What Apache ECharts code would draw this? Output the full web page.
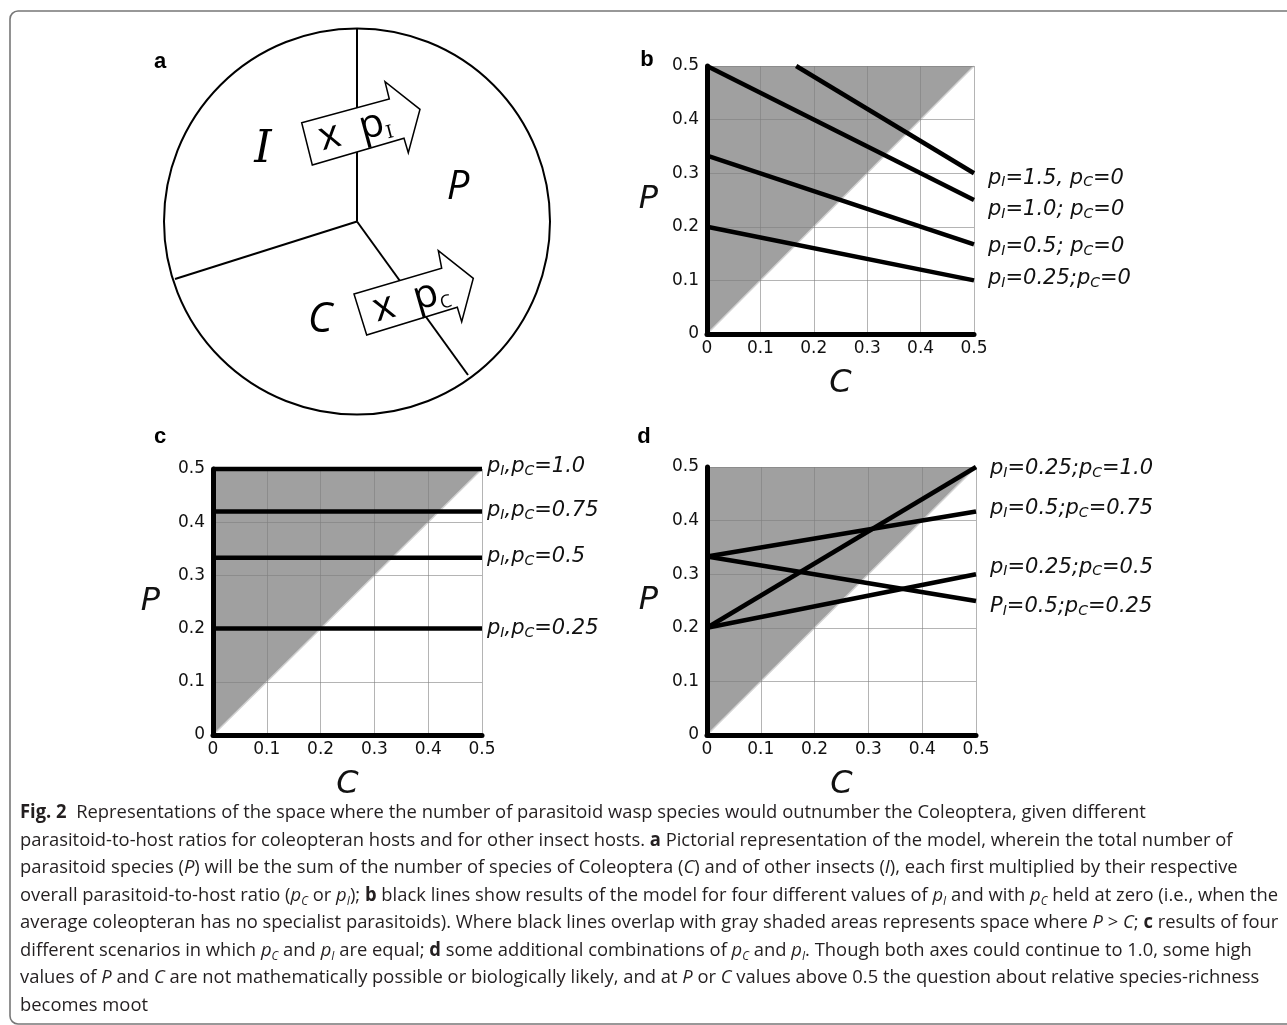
<!DOCTYPE html>
<html>
<head>
<meta charset="utf-8">
<script src="https://cdn.jsdelivr.net/npm/echarts@6/dist/echarts.min.js"></script>
<style>
  html, body { margin: 0; background: #fff; }
  #fig { width: 1287px; height: 1025px; }
</style>
</head>
<body>
<div id="fig"></div>
<script>
// values (C on x, P on y)
const tickLabels = ['0', '0.1', '0.2', '0.3', '0.4', '0.5'];
const shadeEdge = [[0, 0], [0.5, 0.5]];   // P = C, grey area is P > C

const linesB = [
  [[0.167, 0.5], [0.5, 0.3]],
  [[0, 0.5], [0.5, 0.25]],
  [[0, 0.333], [0.5, 0.167]],
  [[0, 0.2], [0.5, 0.1]]
];
const labelsB = ['p_I=1.5, p_C=0', 'p_I=1.0; p_C=0', 'p_I=0.5; p_C=0', 'p_I=0.25;p_C=0'];

const linesC = [
  [[0, 0.5], [0.5, 0.5]],
  [[0, 0.42], [0.5, 0.42]],
  [[0, 0.333], [0.5, 0.333]],
  [[0, 0.2], [0.5, 0.2]]
];
const labelsC = ['p_I,p_C=1.0', 'p_I,p_C=0.75', 'p_I,p_C=0.5', 'p_I,p_C=0.25'];

const linesD = [
  [[0, 0.2], [0.5, 0.5]],
  [[0, 0.333], [0.5, 0.417]],
  [[0, 0.2], [0.5, 0.3]],
  [[0, 0.333], [0.5, 0.25]]
];
const labelsD = ['p_I=0.25;p_C=1.0', 'p_I=0.5;p_C=0.75', 'p_I=0.25;p_C=0.5', 'P_I=0.5;p_C=0.25'];

const caption = [
  '{b|Fig. 2}  Representations of the space where the number of parasitoid wasp species would outnumber the Coleoptera, given different',
  'parasitoid-to-host ratios for coleopteran hosts and for other insect hosts. {b|a} Pictorial representation of the model, wherein the total number of',
  'parasitoid species ({i|P}) will be the sum of the number of species of Coleoptera ({i|C}) and of other insects ({i|I}), each first multiplied by their respective',
  'overall parasitoid-to-host ratio ({i|p}{s|C} or {i|p}{s|I}); {b|b} black lines show results of the model for four different values of {i|p}{s|I} and with {i|p}{s|C} held at zero (i.e., when the',
  'average coleopteran has no specialist parasitoids). Where black lines overlap with gray shaded areas represents space where {i|P} > {i|C}; {b|c} results of four',
  'different scenarios in which {i|p}{s|C} and {i|p}{s|I} are equal; {b|d} some additional combinations of {i|p}{s|C} and {i|p}{s|I}. Though both axes could continue to 1.0, some high',
  'values of {i|P} and {i|C} are not mathematically possible or biologically likely, and at {i|P} or {i|C} values above 0.5 the question about relative species-richness',
  'becomes moot'
];

const panels = [
  { box: { left: 707, top: 66, width: 267, height: 268 }, lines: linesB, labels: labelsB,
    nudge: [[14, 5], [14, 10], [14, 2], [14, -2]], pGap: 49 },
  { box: { left: 213, top: 469, width: 269, height: 266 }, lines: linesC, labels: labelsC,
    nudge: [[5, -2], [5, -1], [5, -1], [5, 0]], pGap: 53 },
  { box: { left: 707, top: 467, width: 269, height: 268 }, lines: linesD, labels: labelsD,
    nudge: [[14, 2], [14, -3], [14, -7], [14, 6]], pGap: 49 }
];

const tickFont = { fontFamily: 'DejaVu Sans', fontSize: 17, color: '#111' };
const nameFont = { fontFamily: 'DejaVu Sans', fontSize: 32, fontStyle: 'italic', color: '#111' };
const gridLine = { color: 'rgba(125,125,125,0.58)', width: 1 };

function axis(i, name, gap) {
  return {
    type: 'value', gridIndex: i, min: 0, max: 0.5, interval: 0.1, z: 3,
    axisLine: { show: true, lineStyle: { color: '#000', width: 5 } },
    axisTick: { show: false },
    splitLine: { show: true, lineStyle: gridLine },
    axisLabel: Object.assign({ margin: name == 'P' ? 8 : 6, formatter: (v, k) => tickLabels[k] }, tickFont),
    name: name, nameLocation: 'middle', nameGap: gap, nameRotate: 0,
    nameTextStyle: nameFont
  };
}

const series = [];
panels.forEach((p, i) => {
  series.push({
    type: 'line', xAxisIndex: i, yAxisIndex: i, data: shadeEdge, z: 1, silent: true,
    symbol: 'none', lineStyle: { color: '#d2d2d2', width: 1.5 },
    areaStyle: { color: '#a0a0a0', opacity: 1, origin: 'end' }
  });
  p.lines.forEach((d, j) => {
    series.push({
      type: 'line', xAxisIndex: i, yAxisIndex: i, data: d, z: 4, silent: true, clip: false,
      symbol: 'none', lineStyle: { color: '#000', width: 4.5 },
      endLabel: {
        show: true, distance: p.nudge[j][0], offset: [0, p.nudge[j][1]],
        formatter: p.labels[j].replace(/_([IC])/g, '{s|$1}'),
        fontFamily: 'DejaVu Sans', fontSize: 21, fontStyle: 'italic', color: '#111', lineHeight: 23,
        rich: { s: { fontFamily: 'DejaVu Sans', fontSize: 14, fontStyle: 'italic', color: '#111',
                     lineHeight: 19, verticalAlign: 'bottom' } }
      }
    });
  });
});

// caption squeezed so that its widest line ends where the printed one does
const capSize = 19;
const ctx = document.createElement('canvas').getContext('2d');
function measure(line) {
  let w = 0;
  line.replace(/\{(\w)\|([^}]*)\}|([^{]+)/g, (m, tag, inner, txt) => {
    let f = capSize + 'px "Open Sans"';
    if (tag == 'b') f = 'bold ' + f;
    if (tag == 'i') f = 'italic ' + f;
    if (tag == 's') f = 'italic 12px "Open Sans"';
    ctx.font = f;
    w += ctx.measureText(txt !== undefined ? txt : inner).width;
    return m;
  });
  return w;
}
const sx = (1278 - 20) / measure(caption[3]);

const capFont = { fontFamily: 'Open Sans', fontSize: capSize, fill: '#231f20' };
const capRich = {
  b: Object.assign({}, capFont, { fontWeight: 'bold', lineHeight: 24 }),
  i: Object.assign({}, capFont, { fontStyle: 'italic', lineHeight: 24 }),
  s: Object.assign({}, capFont, { fontStyle: 'italic', fontSize: 12, lineHeight: 13, verticalAlign: 'bottom' })
};

const ink = { fill: 'none', stroke: '#000', lineWidth: 2 };
const letter = (t, x, y) => ({ type: 'text', x: x, y: y,
  style: { text: t, font: 'bold 22px "Liberation Sans"', fill: '#000', align: 'center', verticalAlign: 'middle' } });
const arrowText = (sub, subFont, x, y, deg) => ({
  type: 'text', x: x, y: y, rotation: deg * Math.PI / 180,
  style: { text: '{m|x  p}{s|' + sub + '}', align: 'center', verticalAlign: 'middle',
    rich: { m: { fontFamily: 'Open Sans', fontSize: 40, lineHeight: 42, fill: '#000' },
            s: { fontFamily: subFont, fontSize: 18, lineHeight: 26, verticalAlign: 'bottom', fill: '#000' } } }
});
const graphic = [
  { type: 'rect', shape: { x: 10, y: 11, width: 1300, height: 1013, r: 8 },
    style: { fill: 'none', stroke: '#777', lineWidth: 1.6 } },
  // panel a: the model sketch
  { type: 'circle', shape: { cx: 357, cy: 221.5, r: 193 }, style: ink },
  { type: 'line', shape: { x1: 357, y1: 221.5, x2: 357, y2: 28.5 }, style: ink },
  { type: 'line', shape: { x1: 357, y1: 221.5, x2: 175, y2: 279 }, style: ink },
  { type: 'line', shape: { x1: 357, y1: 221.5, x2: 468, y2: 375 }, style: ink },
  { type: 'polygon', shape: { points: [[301.7, 122.7], [389.3, 99], [385, 81.7], [420, 109.3], [408.3, 152.7], [404, 138.3], [312.3, 165]] },
    style: { fill: '#fff', stroke: '#000', lineWidth: 1.5 } },
  { type: 'polygon', shape: { points: [[354, 294], [441.7, 268.3], [438.3, 250.7], [473.3, 278.3], [461.7, 321.7], [457.3, 307.3], [366.7, 335]] },
    style: { fill: '#fff', stroke: '#000', lineWidth: 1.5 } },
  arrowText('I', 'DejaVu Serif', 355, 130, 15),
  arrowText('C', 'Open Sans', 411, 300, 16),
  { type: 'text', x: 263, y: 151, style: { text: 'I', font: 'italic 44px "DejaVu Serif"', fill: '#000', align: 'center', verticalAlign: 'middle' } },
  { type: 'text', x: 458, y: 188, style: { text: 'P', font: 'italic 40px "Open Sans"', fill: '#000', align: 'center', verticalAlign: 'middle' } },
  { type: 'text', x: 320, y: 320, style: { text: 'C', font: 'italic 42px "Open Sans"', fill: '#000', align: 'center', verticalAlign: 'middle' } },
  letter('a', 160, 62), letter('b', 647, 60), letter('c', 160, 437), letter('d', 644, 437)
];
caption.forEach((line, k) => {
  graphic.push({
    type: 'text', x: 20, y: 813 + k * 27.45, scaleX: sx, silent: true,
    style: Object.assign({ text: line, rich: capRich, lineHeight: 24, align: 'left', verticalAlign: 'middle' }, capFont)
  });
});

const chart = echarts.init(document.getElementById('fig'));
chart.setOption({
  animation: false,
  backgroundColor: '#fff',
  grid: panels.map(p => Object.assign({ containLabel: false }, p.box)),
  xAxis: panels.map((p, i) => axis(i, 'C', 34)),
  yAxis: panels.map((p, i) => axis(i, 'P', p.pGap)),
  series: series,
  graphic: graphic
});
</script>
</body>
</html>
